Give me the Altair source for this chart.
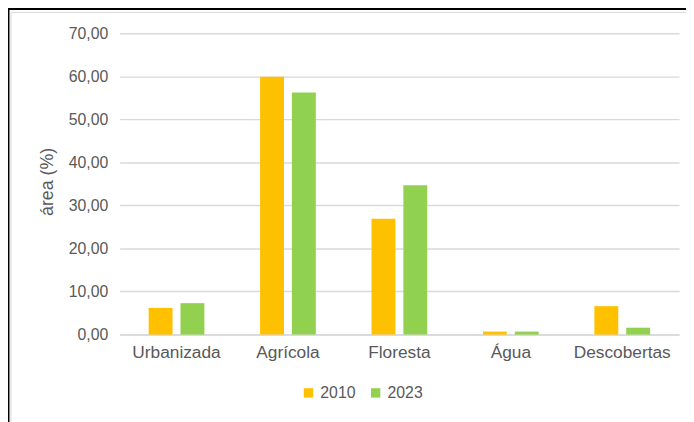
import altair as alt
import pandas as pd

categories = ["Urbanizada", "Agrícola", "Floresta", "Água", "Descobertas"]
years = ["2010", "2023"]
values_2010 = [6.2, 59.9, 26.9, 0.7, 6.6]
values_2023 = [7.3, 56.2, 34.7, 0.7, 1.6]
colors = ["#FFC000", "#92D050"]

rows = []
for c, v1, v2 in zip(categories, values_2010, values_2023):
    rows.append({"cat": c, "ano": "2010", "v": v1})
    rows.append({"cat": c, "ano": "2023", "v": v2})
df = pd.DataFrame(rows)

FONT = "Liberation Sans"
GRAY = "#595959"

bars = alt.Chart(df).mark_bar().encode(
    x=alt.X("cat:N", sort=categories, title=None,
            scale=alt.Scale(paddingInner=0.5, paddingOuter=0.26),
            axis=alt.Axis(labelAngle=0, labelFontSize=17.5, labelColor=GRAY, labelFont=FONT,
                          ticks=False, domainColor="#d9d9d9", domainWidth=1.5, labelPadding=9)),
    xOffset=alt.XOffset("ano:N", scale=alt.Scale(paddingInner=0.25, paddingOuter=0)),
    y=alt.Y("v:Q", title="área (%)",
            scale=alt.Scale(domain=[0, 70]),
            axis=alt.Axis(values=[0, 10, 20, 30, 40, 50, 60, 70],
                          labelExpr="replace(format(datum.value, '.2f'), '.', ',')",
                          labelFontSize=16, labelColor=GRAY, labelFont=FONT, labelPadding=12,
                          ticks=False, domain=False, gridColor="#d9d9d9", gridWidth=1.5,
                          titleFontSize=18, titleColor=GRAY, titleFont=FONT, titleFontWeight="normal",
                          titlePadding=12, titleY=150)),
    color=alt.Color("ano:N", scale=alt.Scale(domain=years, range=colors),
                    legend=alt.Legend(title=None, orient="none", direction="horizontal",
                                      legendX=183, legendY=356, symbolType="square",
                                      symbolSize=90, symbolStrokeWidth=0, labelFontSize=16,
                                      labelColor=GRAY, labelFont=FONT, columnPadding=12, labelOffset=4)),
)

black_top = alt.Chart().mark_rule(color="black", strokeWidth=3).encode(
    x=alt.value(-115), x2=alt.value(580), y=alt.value(-25))
black_left = alt.Chart().mark_rule(color="black", strokeWidth=3).encode(
    x=alt.value(-113), y=alt.value(-27), y2=alt.value(400))
gray_top = alt.Chart().mark_rule(color="#d9d9d9", strokeWidth=1).encode(
    x=alt.value(-110), x2=alt.value(580), y=alt.value(-21))
gray_left = alt.Chart().mark_rule(color="#d9d9d9", strokeWidth=1).encode(
    x=alt.value(-110), y=alt.value(-21), y2=alt.value(400))

chart = alt.layer(bars, gray_top, gray_left, black_top, black_left).properties(
    width=566, height=305,
    autosize=alt.AutoSizeParams(type="none"),
    padding={"left": 113, "top": 23, "right": 7, "bottom": 86},
).configure_view(stroke=None)

chart.save("out.html", embed_options={"renderer": "svg", "actions": False})
